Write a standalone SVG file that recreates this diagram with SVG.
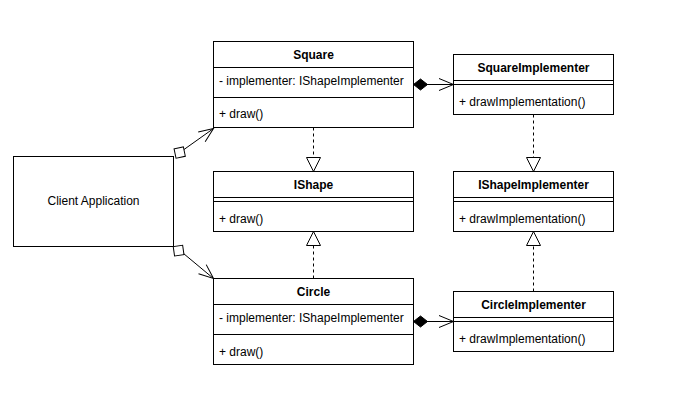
<svg xmlns="http://www.w3.org/2000/svg" width="696" height="401" viewBox="0 0 696 401">
<style>
.box{fill:#fff;stroke:#000;stroke-width:1}
.sep{stroke:#000;stroke-width:1;fill:none}
.t{font-family:"Liberation Sans",Arial,sans-serif;font-size:12px;fill:#000}
.b{font-weight:bold;text-anchor:middle}
.c{text-anchor:middle}
.ln{stroke:#000;stroke-width:1;fill:none}
.dash{stroke-dasharray:3,3}
.end{fill:#fff;stroke:#000;stroke-width:1}
</style>
<defs>
<marker id="open" viewBox="-16 -8 17 16" refX="0" refY="0" markerWidth="17" markerHeight="16" markerUnits="userSpaceOnUse" orient="auto">
<path d="M-14.5,-6 L0,0 L-14.5,6" fill="none" stroke="#000" stroke-width="1"/>
</marker>
<marker id="diamond" viewBox="-1 -7 16 14" refX="0" refY="0" markerWidth="16" markerHeight="14" markerUnits="userSpaceOnUse" orient="auto">
<path d="M0,0 L7,-5.5 L14,0 L7,5.5 Z" fill="#000" stroke="#000" stroke-width="1"/>
</marker>
<marker id="tri" viewBox="-15 -8 16 16" refX="0" refY="0" markerWidth="16" markerHeight="16" markerUnits="userSpaceOnUse" orient="auto">
<path d="M0,0 L-14,-7 L-14,7 Z" fill="#fff" stroke="#000" stroke-width="1"/>
</marker>
<rect id="sq" class="end" x="-4.75" y="-4.75" width="9.5" height="9.5"/>
</defs>
<rect width="696" height="401" fill="#fff"/>

<g id="connectors">
<line class="ln" x1="184" y1="149.5" x2="213.5" y2="128.5" marker-end="url(#open)"/>
<use href="#sq" transform="translate(179.7,152.6) rotate(-12)"/>
<line class="ln" x1="183.5" y1="253.5" x2="213.5" y2="278.5" marker-end="url(#open)"/>
<use href="#sq" transform="translate(178.6,250.6) rotate(-8)"/>
<line class="ln" x1="413.5" y1="84.5" x2="453.5" y2="84.5" marker-start="url(#diamond)" marker-end="url(#open)"/>
<line class="ln" x1="413.5" y1="321.5" x2="453.5" y2="321.5" marker-start="url(#diamond)" marker-end="url(#open)"/>
<line class="ln dash" x1="313.5" y1="127.5" x2="313.5" y2="171.5" marker-end="url(#tri)"/>
<line class="ln dash" x1="533.5" y1="114.5" x2="533.5" y2="171.5" marker-end="url(#tri)"/>
<line class="ln dash" x1="313.5" y1="278.5" x2="313.5" y2="231.5" marker-end="url(#tri)"/>
<line class="ln dash" x1="533.5" y1="291.5" x2="533.5" y2="231.5" marker-end="url(#tri)"/>
</g>

<g id="client">
<rect class="box" x="13.5" y="156.5" width="160" height="90"/>
<text class="t c" x="93.5" y="205">Client Application</text>
</g>

<g id="square">
<rect class="box" x="213.5" y="41.5" width="200" height="86"/>
<line class="sep" x1="213.5" y1="67.5" x2="413.5" y2="67.5"/>
<line class="sep" x1="213.5" y1="97.5" x2="413.5" y2="97.5"/>
<text class="t b" x="313.5" y="59">Square</text>
<text class="t" x="219" y="85">- implementer: IShapeImplementer</text>
<text class="t" x="219" y="118">+ draw()</text>
</g>

<g id="squareImplementer">
<rect class="box" x="453.5" y="54.5" width="160" height="60"/>
<line class="sep" x1="453.5" y1="80.5" x2="613.5" y2="80.5"/>
<line class="sep" x1="453.5" y1="84.5" x2="613.5" y2="84.5"/>
<text class="t b" x="533.5" y="72">SquareImplementer</text>
<text class="t" x="459" y="106">+ drawImplementation()</text>
</g>

<g id="ishape">
<rect class="box" x="213.5" y="171.5" width="200" height="60"/>
<line class="sep" x1="213.5" y1="197.5" x2="413.5" y2="197.5"/>
<line class="sep" x1="213.5" y1="201.5" x2="413.5" y2="201.5"/>
<text class="t b" x="313.5" y="189">IShape</text>
<text class="t" x="219" y="223">+ draw()</text>
</g>

<g id="ishapeImplementer">
<rect class="box" x="453.5" y="171.5" width="160" height="60"/>
<line class="sep" x1="453.5" y1="197.5" x2="613.5" y2="197.5"/>
<line class="sep" x1="453.5" y1="201.5" x2="613.5" y2="201.5"/>
<text class="t b" x="533.5" y="189">IShapeImplementer</text>
<text class="t" x="459" y="223">+ drawImplementation()</text>
</g>

<g id="circle">
<rect class="box" x="213.5" y="278.5" width="200" height="86"/>
<line class="sep" x1="213.5" y1="304.5" x2="413.5" y2="304.5"/>
<line class="sep" x1="213.5" y1="334.5" x2="413.5" y2="334.5"/>
<text class="t b" x="313.5" y="296">Circle</text>
<text class="t" x="219" y="322">- implementer: IShapeImplementer</text>
<text class="t" x="219" y="356">+ draw()</text>
</g>

<g id="circleImplementer">
<rect class="box" x="453.5" y="291.5" width="160" height="60"/>
<line class="sep" x1="453.5" y1="317.5" x2="613.5" y2="317.5"/>
<line class="sep" x1="453.5" y1="321.5" x2="613.5" y2="321.5"/>
<text class="t b" x="533.5" y="309">CircleImplementer</text>
<text class="t" x="459" y="343">+ drawImplementation()</text>
</g>
</svg>
